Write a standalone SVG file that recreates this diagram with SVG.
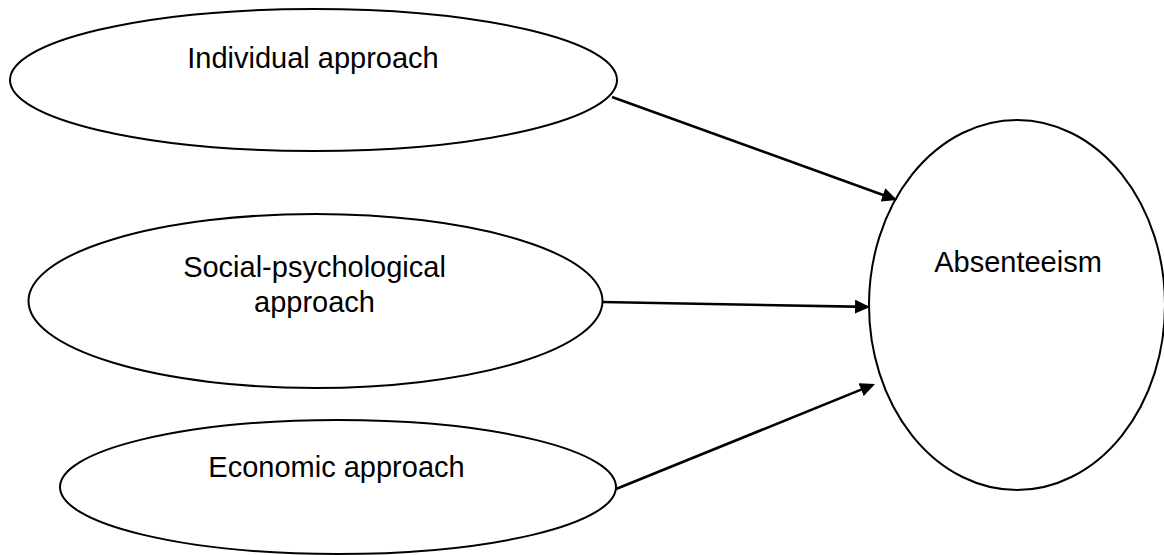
<svg xmlns="http://www.w3.org/2000/svg" width="1164" height="555" viewBox="0 0 1164 555">
<style>
.node ellipse{fill:#fff;stroke:#000;stroke-width:2}
.node text{font-family:"Liberation Sans",Arial,sans-serif;font-size:29px;fill:#000;text-anchor:middle}
.edge{stroke:#000;stroke-width:2.6;fill:none;marker-end:url(#arrow)}
</style>
<defs>
<marker id="arrow" markerUnits="userSpaceOnUse" markerWidth="15" markerHeight="14" refX="12" refY="7" orient="auto" viewBox="0 0 15 14">
<path d="M0,0 L15,7 L0,14 z" fill="#000"/>
</marker>
</defs>
<rect width="1164" height="555" fill="#fff"/>
<g id="individual" class="node">
<ellipse cx="313.5" cy="80" rx="303.5" ry="71"/>
<text x="313" y="68">Individual approach</text>
</g>
<g id="social" class="node">
<ellipse cx="315.5" cy="301" rx="287" ry="87"/>
<text x="314.5" y="277">Social-psychological</text>
<text x="314.5" y="312">approach</text>
</g>
<g id="economic" class="node">
<ellipse cx="338" cy="487" rx="278" ry="67"/>
<text x="336.5" y="477">Economic approach</text>
</g>
<g id="absenteeism" class="node">
<ellipse cx="1017" cy="305" rx="148" ry="185"/>
<text x="1018" y="272">Absenteeism</text>
</g>
<g id="connectors">
<line class="edge" x1="612" y1="97" x2="894.2" y2="199"/>
<line class="edge" x1="602" y1="302" x2="867" y2="306.9"/>
<line class="edge" x1="616" y1="489" x2="872.2" y2="385.1"/>
</g>
</svg>
